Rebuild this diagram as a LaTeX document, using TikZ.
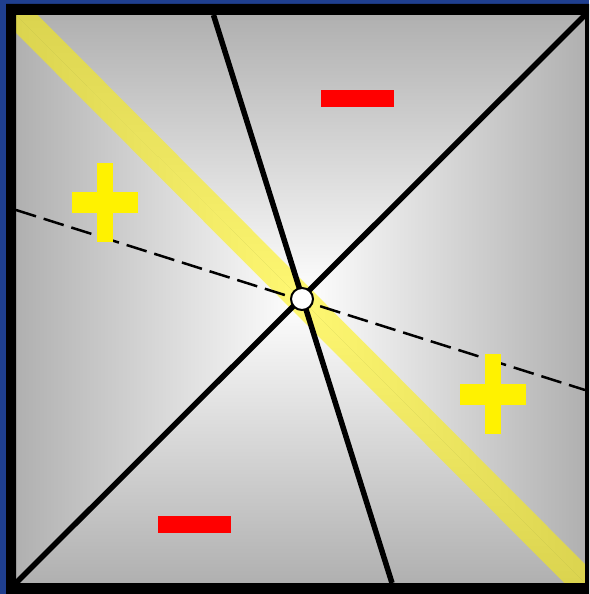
\documentclass[tikz,border=0pt]{standalone}
\begin{document}
\begin{tikzpicture}[x=1pt,y=-1pt,
  bar/.style={rectangle, inner sep=0pt, outer sep=0pt, draw=none},
  plusbar/.style={bar, fill=yellow},
  minusbar/.style={bar, fill=red, minimum width=73pt, minimum height=17pt},
  solidline/.style={line width=5.5pt, black},
  dashline/.style={line width=2.5pt, black, dash pattern=on 21pt off 8pt},
  band/.style={line width=28pt, yellow, opacity=0.55},
  hub/.style={circle, draw=black, fill=white, line width=2pt, minimum size=22pt, inner sep=0pt}
]
\definecolor{frameblue}{RGB}{31,63,143}
\definecolor{edgegray}{RGB}{176,176,176}
\useasboundingbox (0,0) rectangle (589,594);
\fill[frameblue] (0,0) rectangle (589,594);
% inner square corners and centre
\coordinate (TL) at (16,15);
\coordinate (TR) at (585,15);
\coordinate (BL) at (16,583);
\coordinate (BR) at (585,583);
\coordinate (O) at (301,299);
% gradient: four triangles
\shade[top color=edgegray, bottom color=white] (TL) -- (TR) -- (O) -- cycle;
\shade[top color=white, bottom color=edgegray] (BL) -- (BR) -- (O) -- cycle;
\shade[left color=edgegray, right color=white] (TL) -- (BL) -- (O) -- cycle;
\shade[left color=white, right color=edgegray] (TR) -- (BR) -- (O) -- cycle;
% yellow band
\coordinate (bandA) at (6,3);
\coordinate (bandB) at (597,596);
\begin{scope}
  \clip (TL) rectangle (BR);
  \draw[band] (bandA) -- (bandB);
\end{scope}
% lines
\coordinate (S1) at (213.5,15);
\coordinate (S2) at (392,583);
\coordinate (D1) at (16,210);
\coordinate (D2) at (585,390);
\draw[solidline] (BL) -- (TR);
\draw[solidline] (S1) -- (S2);
\draw[dashline] (D1) -- (D2);
% plus signs
\node[plusbar, minimum width=16pt, minimum height=79pt] (p1v) at (105,202.5) {};
\node[plusbar, minimum width=66pt, minimum height=21pt] (p1h) at (105,202.5) {};
\node[plusbar, minimum width=16pt, minimum height=80pt] (p2v) at (493,394) {};
\node[plusbar, minimum width=66pt, minimum height=21pt] (p2h) at (493,394) {};
% minus signs
\node[minusbar] (m1) at (357.5,98.5) {};
\node[minusbar] (m2) at (194.5,524.5) {};
% hub
\node[hub] (hub) at (302,299) {};
% frame
\fill[black, even odd rule] (6,4) rectangle (589,594) (TL) rectangle (BR);
\end{tikzpicture}
\end{document}
